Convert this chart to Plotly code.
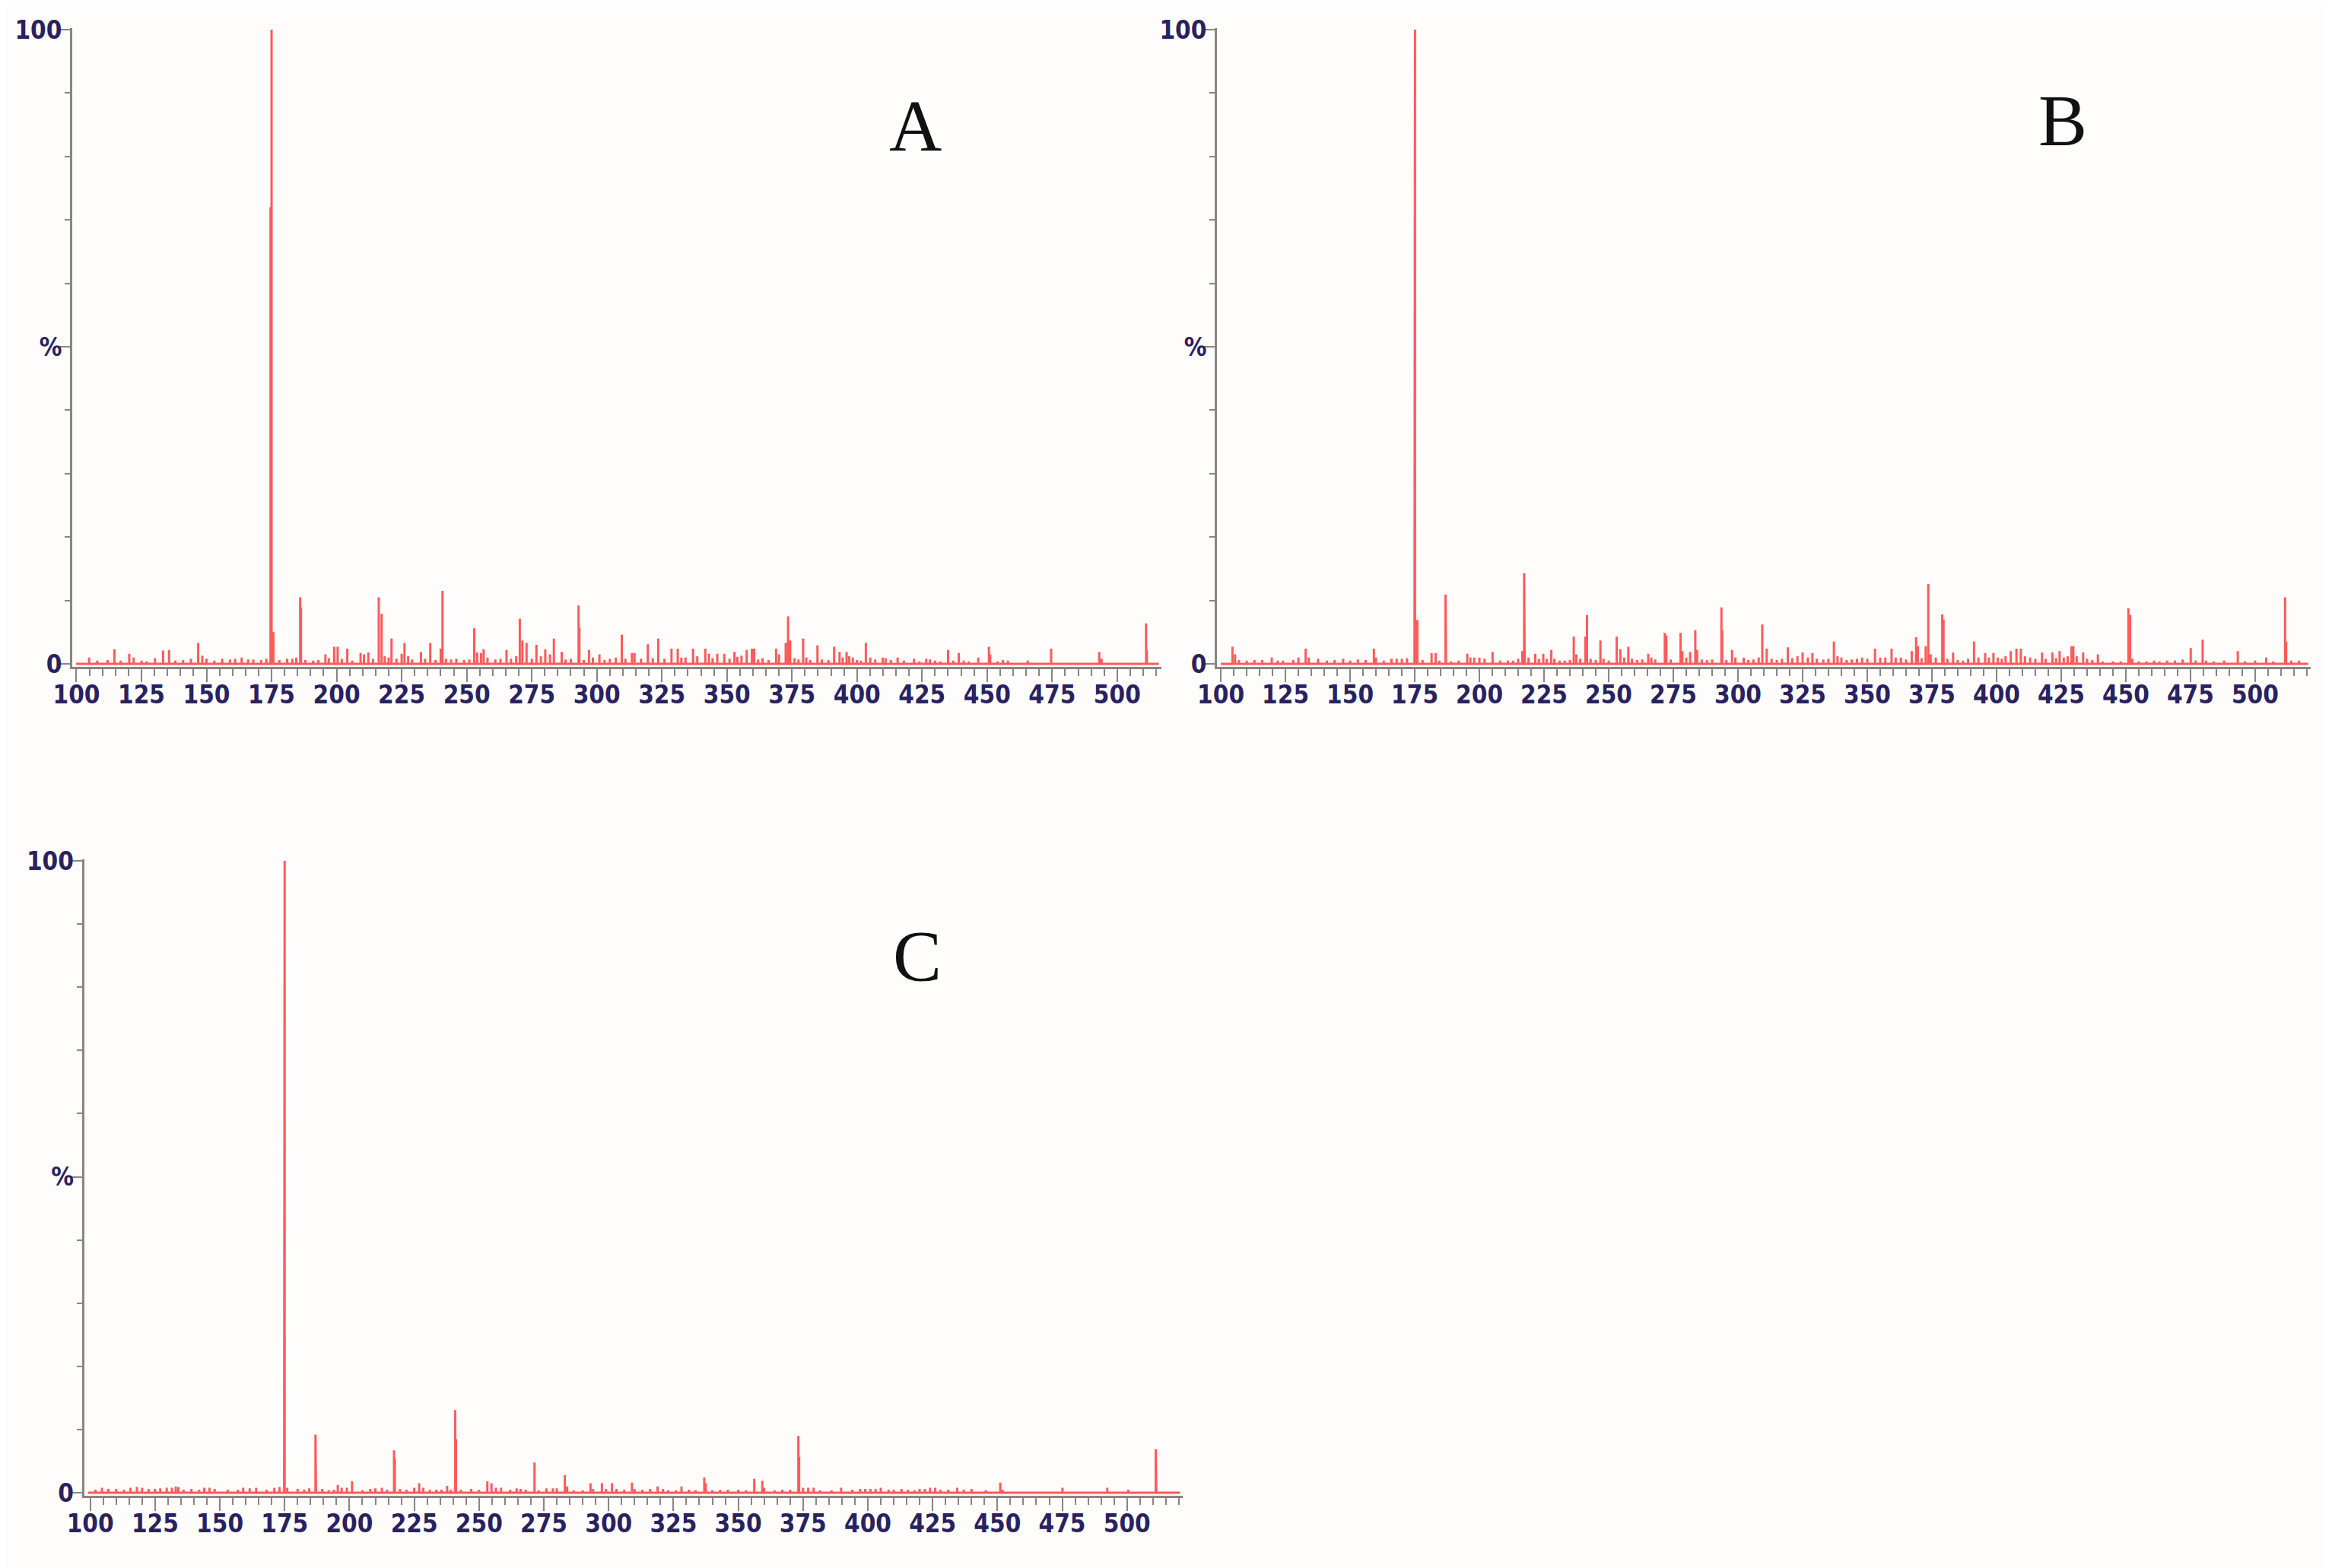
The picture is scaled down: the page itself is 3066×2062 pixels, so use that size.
import plotly.graph_objects as go

# ---------------- data (m/z, relative intensity %) ----------------
mz_A = [104.9,108,112,114.6,117,120.3,122,125,127,130.2,133.3,135.6,138,141,144,146.8,148.4,150,153,156,159,161,163.5,166,168,171,173,
        174.6,175.0,175.7,178,181,183,184.5,186.0,186.3,188,191,193,195.7,197,199.1,200.4,202,204.1,206,209.2,210.5,212.2,214,
        216.2,217.3,218.5,220,221.1,223,225,226.1,227.5,229,232.4,234,236,238,240,240.7,242,244,246,249,251,252.9,254,255.5,256.5,
        258,261,263,265.3,267,269,270.4,271.4,273,275,276.8,278.5,280.2,282,283.5,286.5,288,290,293,293.3,295,297,298.5,301,303,
        305,307.3,309.6,311,313.5,314.5,317,319.6,321.5,323.6,326,328.7,331.1,332.5,334.1,337,338.6,341.7,343.1,344.5,346.3,349,
        351,352.9,354,355.6,357.6,359.6,360.5,362,363.7,366,368.9,370,372.6,373.5,374.3,376,377.5,379.3,380.5,382,384.8,386.5,389,
        391.2,393.3,394.5,396,397,398.4,400,401.5,403.4,405.1,407,409.9,411,413,415.6,418,421.9,424,426.6,428,430,432,435,437,
        439.1,441,443,446.6,450.7,451.2,454,456.1,458,465.6,474.6,493.1,494,511.1,511.4]
int_A = [1.0,0.5,0.6,2.3,0.5,1.6,1.0,0.5,0.4,0.9,2.1,2.2,0.5,0.6,0.8,3.3,1.3,0.8,0.5,0.8,0.7,0.8,1.0,0.7,0.7,0.6,0.8,
         72,100,5,0.6,0.8,0.8,1.0,10.5,8.9,0.6,0.5,0.6,1.5,0.9,2.7,2.7,0.8,2.4,0.5,1.7,1.5,1.8,0.8,
         10.5,7.9,1.2,1.0,4.0,0.8,1.6,3.3,1.2,0.7,1.9,0.8,3.3,0.6,2.4,11.5,0.8,0.7,0.8,0.6,0.7,5.6,1.8,1.7,2.3,
         1.0,0.7,0.8,2.2,0.8,1.2,7.1,3.7,3.3,0.8,3.0,1.2,2.3,1.5,4.0,1.9,0.7,0.8,9.2,5.7,0.6,2.2,1.0,1.5,0.6,
         0.8,1.0,4.6,0.8,1.7,1.7,0.8,3.1,0.9,4.0,0.8,2.4,2.4,1.0,1.0,2.4,1.2,2.4,1.6,0.9,1.6,1.6,
         0.8,1.9,1.1,1.3,2.2,2.4,2.4,0.7,0.9,0.6,2.4,1.5,3.3,7.5,3.7,0.9,0.7,4.0,1.0,0.6,2.9,0.7,0.6,
         2.7,1.9,1.0,1.9,1.2,1.0,0.6,0.5,3.3,1.0,0.7,1.0,0.9,0.6,1.0,0.5,0.8,0.4,0.8,0.7,0.5,0.4,2.2,0.5,
         1.7,0.5,0.4,1.0,2.7,1.5,0.4,0.6,0.5,0.5,2.4,1.9,0.8,6.4,2.2]

mz_B = [104.5,105.5,107,110,113,116,119.7,122,124,128,130,132.8,134,137.6,141,144,147.3,150,153,156,159.2,160,163,166,168,170,172,
        174.9,175.1,176,178,181.5,183.1,184.5,186.9,187.1,189,192,195.3,196.5,198,200,202,205.1,208,211,213,215,216.6,217.3,217.5,
        219,221.6,223,224.7,226,227.8,229,231,233,235,236.5,237.5,239,241,241.6,243,245,246.8,248,250,253.1,254.5,256,257.6,259,
        261,263,265.3,266.5,268,271.7,272.3,274,277.8,278.5,280,281.5,283.5,284.2,286,288,290,293.6,293.9,295.5,297.7,299,302.2,
        304,306,308,309.4,311.1,313,315,317,319.3,321,323,325,327,328.8,330.5,333,335,337.1,338.5,340,342,344,346,348,350,353,
        355,357,359.4,361,363,365,367.2,368.9,369.6,371,372.6,373.6,374.5,376.5,379,379.5,381,383.2,385,387,389,391.3,393,395.6,
        397,398.8,400.5,402,403.5,405.5,407.7,409.4,411,413,415,417.6,419,421.6,423,424.4,426,427.5,429,429.7,431,433.5,435,437,
        439.2,441,445,448,451,451.7,452.5,455,458,460.9,463,466,469,472,475.1,477,479.7,481,484,488,493.3,496,500,504.3,507,
        511.6,512,514,517]
int_B = [2.7,1.5,0.6,0.5,0.6,0.6,1.0,0.5,0.5,0.6,1.0,2.4,1.0,0.8,0.5,0.6,0.8,0.5,0.7,0.6,2.4,1.0,0.5,0.8,0.8,0.8,0.9,
         89,100,6.9,0.6,1.7,1.7,0.5,10.9,7.0,0.4,0.5,1.6,1.0,1.0,1.0,0.8,1.9,0.5,0.5,0.5,0.8,2.0,14.3,9.9,
         1.0,1.6,0.8,1.6,0.8,2.2,0.8,0.5,0.5,0.6,4.3,1.5,0.8,4.3,7.7,0.8,0.6,3.7,0.8,0.5,4.3,2.3,1.0,2.7,0.8,
         0.6,0.7,1.6,1.0,0.7,4.9,4.5,0.7,4.9,2.0,1.0,1.9,5.3,2.2,0.7,0.6,0.7,8.9,5.3,0.6,2.2,1.0,1.0,
         0.6,0.7,1.0,6.2,2.4,0.8,0.6,0.8,2.6,0.9,1.2,1.8,1.0,1.7,0.8,0.7,0.8,3.5,1.2,1.0,0.6,0.7,0.8,1.0,0.8,2.4,
         1.0,1.0,2.4,1.0,1.0,0.7,2.0,4.2,2.8,0.9,2.8,12.6,1.5,1.0,7.8,7.0,0.8,1.8,0.6,0.5,0.8,3.5,1.0,1.7,
         1.0,1.7,1.0,0.8,1.2,2.0,2.4,2.4,1.2,1.0,0.8,1.8,0.8,1.8,0.9,2.0,1.0,1.2,2.8,2.8,1.2,1.8,0.8,0.6,
         1.5,0.4,0.4,0.4,8.8,7.7,0.8,0.4,0.4,0.5,0.4,0.5,0.5,0.7,2.5,0.5,3.8,0.5,0.4,0.5,2.0,0.4,0.5,1.0,0.4,
         10.5,3.5,0.5,0.5]

mz_C = [102,104.5,107,110,113,115.5,118,120,122.5,125,127,129.5,131.5,133,134,136,139,142,144,146,148,153,157,159,161.5,164,168,171,173,
        174.8,175.0,176,180,182.5,184.5,186.9,187.1,189.5,192,194,195.5,197,199,201,205,208,210,212.5,214.5,217.2,217.5,219.5,222,
        225,226.9,228.5,231,233.5,235.5,237.7,239,240.8,241.1,243,247,250,253.2,254.8,256.5,258.5,262,264.5,266,268,271.4,273,276,
        278.5,280,283.1,284,286.5,290,293,294,297.4,299,301.3,303,306,309,310,313,316,318.9,321,323,326,328.1,331,333.5,336.9,337.5,
        340,343,346,350,353,356.2,359.3,360,364,367,370,373.2,373.5,375,377,379.1,381.5,386,389.7,394,397,399,401,403,405,408,410,
        413,415.5,418,420,422,424,426,428,431,434.5,437,440,445.5,451.1,452,475.1,492.4,500.5,511.1,511.3]
int_C = [0.5,0.8,0.6,0.6,0.5,0.8,0.9,0.8,0.6,0.6,0.7,0.8,0.8,1.0,0.9,0.5,0.6,0.5,0.8,0.8,0.6,0.5,0.5,0.8,0.7,0.8,0.5,0.8,0.9,
         95.5,100,0.8,0.6,0.5,0.7,9.2,8.5,0.6,0.4,0.5,1.2,0.8,0.8,1.8,0.4,0.6,0.7,0.8,0.5,6.7,5.4,0.6,0.5,
         0.8,1.5,0.8,0.5,0.5,0.5,1.1,0.5,13.1,8.5,0.5,0.6,0.5,1.8,1.5,0.8,0.8,0.5,0.7,0.6,0.5,4.8,0.4,0.7,
         0.7,0.7,2.8,1.0,0.4,0.4,1.5,0.6,1.5,0.6,1.5,0.6,0.5,1.6,0.6,0.5,0.6,1.0,0.6,0.4,0.4,1.0,0.5,0.4,2.4,1.5,
         0.4,0.5,0.5,0.5,0.4,2.2,1.9,0.8,0.4,0.5,0.5,9.0,5.7,0.8,0.8,0.8,0.4,0.4,0.8,0.5,0.6,0.6,0.6,0.6,0.8,0.5,0.5,
         0.6,0.5,0.4,0.6,0.6,0.8,0.8,0.5,0.5,0.8,0.5,0.6,0.4,1.6,0.5,0.8,0.8,0.5,6.9,2.1]

x_ranges = {"A": [98.4, 517.0], "B": [98.5, 521.5], "C": [97.6, 521.5]}
x_ticks = [100, 125, 150, 175, 200, 225, 250, 275, 300, 325, 350, 375, 400, 425, 450, 475, 500]
y_tickvals = [0, 50, 100]
y_ticktext = ["0", "%", "100"]
panel_labels = ["A", "B", "C"]

# ---------------- styling ----------------
RED = "#ff5a5a"
AXIS = "#8b8480"
NAVY = "#29225f"
TICKFONT = dict(family="DejaVu Sans Condensed, Liberation Sans Narrow, Arial Narrow, sans-serif",
                size=33, color=NAVY, weight="bold")


def stick_path(mz, inten, xr):
    pairs = sorted(zip(mz, inten))
    xs, ys = [xr[0] + 1.5], [0]
    for m, v in pairs:
        xs += [m, m, m]
        ys += [0, v, 0]
    xs.append(xr[1] - 1.0)
    ys.append(0)
    return xs, ys


fig = go.Figure()
series = [(mz_A, int_A, "A", "x", "y"), (mz_B, int_B, "B", "x2", "y2"), (mz_C, int_C, "C", "x3", "y3")]
for mz, inten, key, xa, ya in series:
    xs, ys = stick_path(mz, inten, x_ranges[key])
    fig.add_trace(go.Scatter(x=xs, y=ys, mode="lines", xaxis=xa, yaxis=ya,
                             line=dict(color=RED, width=3), hoverinfo="skip", showlegend=False))

W, H = 3066, 2062
OFF = 8  # page body margin


def fx(px):
    return (px - OFF) / W


def fy(py):
    return 1 - (py - OFF) / H


dom = {
    "A": dict(x=[fx(95), fx(1527)], y=[fy(877.2), fy(36.5)]),
    "B": dict(x=[fx(1600), fx(3038)], y=[fy(877.2), fy(36.5)]),
    "C": dict(x=[fx(110.5), fx(1555)], y=[fy(1967.2), fy(1129.5)]),
}


def xaxis_cfg(key, anchor):
    return dict(domain=dom[key]["x"], range=x_ranges[key], anchor=anchor, automargin=False,
                showline=True, linecolor=AXIS, linewidth=3, showgrid=False, zeroline=False,
                tickmode="array", tickvals=x_ticks, ticks="outside", ticklen=17, tickwidth=2,
                tickcolor=AXIS, tickfont=TICKFONT, ticklabelstandoff=-12,
                minor=dict(dtick=5, tick0=100, ticks="outside", ticklen=9, tickwidth=2, tickcolor=AXIS, showgrid=False))


def yaxis_cfg(key, anchor):
    return dict(domain=dom[key]["y"], range=[-0.5, 100.3], anchor=anchor, automargin=False,
                showline=True, linecolor=AXIS, linewidth=3, showgrid=False, zeroline=False,
                tickmode="array", tickvals=y_tickvals, ticktext=y_ticktext,
                ticks="outside", ticklen=14, tickwidth=2, tickcolor=AXIS, tickfont=TICKFONT,
                ticklabelstandoff=-10,
                minor=dict(dtick=10, tick0=0, ticks="outside", ticklen=7, tickwidth=2, tickcolor=AXIS, showgrid=False))


fig.update_layout(
    width=W, height=H, margin=dict(l=0, r=0, t=0, b=0, pad=0),
    paper_bgcolor="#fefdfc", plot_bgcolor="#fefdfc",
    xaxis=xaxis_cfg("A", "y"), yaxis=yaxis_cfg("A", "x"),
    xaxis2=xaxis_cfg("B", "y2"), yaxis2=yaxis_cfg("B", "x2"),
    xaxis3=xaxis_cfg("C", "y3"), yaxis3=yaxis_cfg("C", "x3"),
    showlegend=False,
)

label_pos = [(fx(1203), fy(165)), (fx(2712), fy(158)), (fx(1206), fy(1257))]
for txt, (px, py) in zip(panel_labels, label_pos):
    fig.add_annotation(text=txt, x=px, y=py, xref="paper", yref="paper", showarrow=False,
                       xanchor="center", yanchor="middle",
                       font=dict(family="Liberation Serif, Times New Roman, serif", size=96, color="#111111"))

fig.write_html("out.html")
